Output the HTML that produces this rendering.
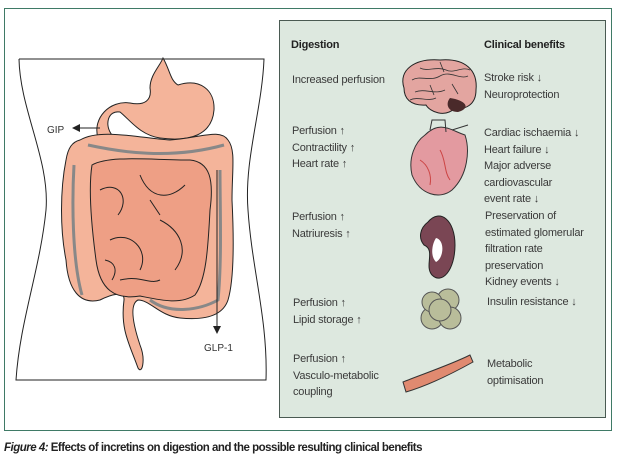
<!DOCTYPE html>
<html><head><meta charset="utf-8"><style>
html,body{margin:0;padding:0;background:#fff;}
body{width:618px;height:459px;position:relative;overflow:hidden;font-family:"Liberation Sans",sans-serif;}
.t{position:absolute;font-size:11px;color:#3a3a3a;line-height:16.5px;letter-spacing:-0.2px;}
.h{font-weight:bold;color:#222;}
</style></head><body>
<div style="position:absolute;left:4px;top:8px;width:606px;height:421px;border:1px solid #3f7a66;"></div>
<div style="position:absolute;left:279px;top:20px;width:325px;height:396px;border:1px solid #4a5a52;background:#dde8df;"></div>
<svg width="618" height="459" style="position:absolute;left:0;top:0">
<path d="M19 59 L264 59 C262 110 244 160 248 210 C252 270 268 320 266 380 L16 380 C20 320 40 270 46 210 C50 160 20 110 19 59" fill="#fff" stroke="#222" stroke-width="1"/>
<path d="M163 58 C170 70 170 80 178 85 C200 78 215 90 214 110 C212 135 190 142 160 138 C140 135 130 120 120 112 C108 110 104 125 112 135 L98 138 C92 118 110 100 130 103 C145 106 152 100 150 88 C150 75 160 66 163 58Z" fill="#f4b49a" stroke="#222" stroke-width="1"/>
<path d="M80 140 C100 128 140 138 170 140 C200 138 220 128 228 140 C236 150 232 170 232 200 C234 240 234 280 228 300 C222 318 200 320 180 318 C160 316 150 300 138 300 C128 305 135 330 140 345 C146 360 142 375 138 368 C130 345 120 330 124 300 C125 290 110 295 100 300 C80 305 68 290 66 260 C60 230 60 190 66 160 C68 148 72 142 80 140Z" fill="#f4b49a" stroke="#222" stroke-width="1"/>
<path d="M92 165 C110 155 150 160 190 160 C210 162 214 180 210 210 C208 250 206 280 195 295 C180 305 160 300 140 296 C115 300 100 290 96 260 C92 230 88 190 92 165Z" fill="#ee9f85" stroke="#222" stroke-width="1"/>
<path d="M100 190 C120 180 130 200 118 215 M140 175 C150 200 170 200 185 185 M110 240 C130 230 150 250 140 270 M160 220 C180 230 190 250 175 270 M120 280 C140 275 150 285 160 280 M150 200 L160 215 M105 260 C115 262 118 270 112 280" fill="none" stroke="#222" stroke-width="1"/>
<path d="M88 145 C120 152 170 160 224 145 M74 165 C72 200 72 260 82 295 M220 170 C220 210 222 260 218 300 C200 310 170 315 150 300" fill="none" stroke="#888" stroke-width="3"/>
<line x1="100" y1="128" x2="78" y2="128" stroke="#222" stroke-width="1"/><polygon points="72,128 80,124 80,132" fill="#222"/>
<text x="47" y="133" font-size="10" fill="#333" font-family="Liberation Sans">GIP</text>
<line x1="217" y1="170" x2="217" y2="327" stroke="#222" stroke-width="1"/><polygon points="217,334 213,326 221,326" fill="#222"/>
<text x="204" y="351" font-size="10" fill="#333" font-family="Liberation Sans">GLP-1</text>
<path d="M404 88 C398 70 415 58 440 60 C465 58 478 70 476 90 C476 105 465 110 455 108 C445 118 430 112 426 105 C410 106 404 98 404 88Z" fill="#e3a5a0" stroke="#222" stroke-width="1"/>
<path d="M450 98 C465 100 472 108 458 112 C448 112 445 104 450 98Z" fill="#4a2a2a"/>
<path d="M412 80 C420 75 430 82 440 76 C450 70 460 80 468 76 M415 92 C425 88 435 95 445 90 M420 68 C428 72 436 66 446 70 C454 74 462 66 470 70 M410 100 C418 96 428 102 436 98 M430 85 L434 95 M452 84 L458 94 M440 62 L444 72" fill="none" stroke="#333" stroke-width="0.8"/>
<path d="M425 135 C440 120 450 130 465 135 C470 150 468 175 452 190 C440 200 420 195 412 175 C408 158 415 142 425 135Z" fill="#e39aa0" stroke="#333" stroke-width="1"/>
<path d="M430 130 L432 120 L445 120 L446 132 M452 130 L468 125" fill="none" stroke="#333" stroke-width="1"/>
<path d="M420 160 C428 165 432 175 430 185 M440 150 C446 160 444 172 450 180" fill="none" stroke="#c44" stroke-width="1"/>
<path d="M428 222 C440 208 455 220 455 245 C455 270 442 285 432 275 C424 266 436 250 424 245 C418 238 420 228 428 222Z" fill="#7a4654" stroke="#222" stroke-width="1"/>
<path d="M436 238 C445 240 444 258 436 262 C430 256 432 244 436 238Z" fill="#fff"/>
<g fill="#b9bd9a" stroke="#555" stroke-width="1"><circle cx="432" cy="318" r="11"/><circle cx="448" cy="300" r="11"/><circle cx="432" cy="302" r="10"/><circle cx="450" cy="318" r="11"/><circle cx="440" cy="310" r="11"/></g>
<path d="M403 382 C420 375 450 365 470 355 L473 362 C455 372 430 385 406 392Z" fill="#e08a70" stroke="#333" stroke-width="1"/>
</svg>
<div class="t h" style="left:291px;top:37px;">Digestion</div>
<div class="t h" style="left:484px;top:37px;">Clinical benefits</div>
<div class="t" style="left:292px;top:72px;">Increased perfusion</div>
<div class="t" style="left:484px;top:70px;">Stroke risk ↓<br>Neuroprotection</div>
<div class="t" style="left:292px;top:123px;">Perfusion ↑<br>Contractility ↑<br>Heart rate ↑</div>
<div class="t" style="left:484px;top:125px;">Cardiac ischaemia ↓<br>Heart failure ↓<br>Major adverse<br>cardiovascular<br>event rate ↓</div>
<div class="t" style="left:292px;top:209px;">Perfusion ↑<br>Natriuresis ↑</div>
<div class="t" style="left:485px;top:208px;">Preservation of<br>estimated glomerular<br>filtration rate<br>preservation<br>Kidney events ↓</div>
<div class="t" style="left:293px;top:295px;">Perfusion ↑<br>Lipid storage ↑</div>
<div class="t" style="left:487px;top:294px;">Insulin resistance ↓</div>
<div class="t" style="left:293px;top:351px;">Perfusion ↑<br>Vasculo-metabolic<br>coupling</div>
<div class="t" style="left:487px;top:356px;">Metabolic<br>optimisation</div>
<div class="t" style="left:4px;top:440px;font-size:11.5px;color:#222;font-weight:bold;letter-spacing:-0.5px;"><i>Figure 4:</i> Effects of incretins on digestion and the possible resulting clinical benefits</div>
</body></html>
